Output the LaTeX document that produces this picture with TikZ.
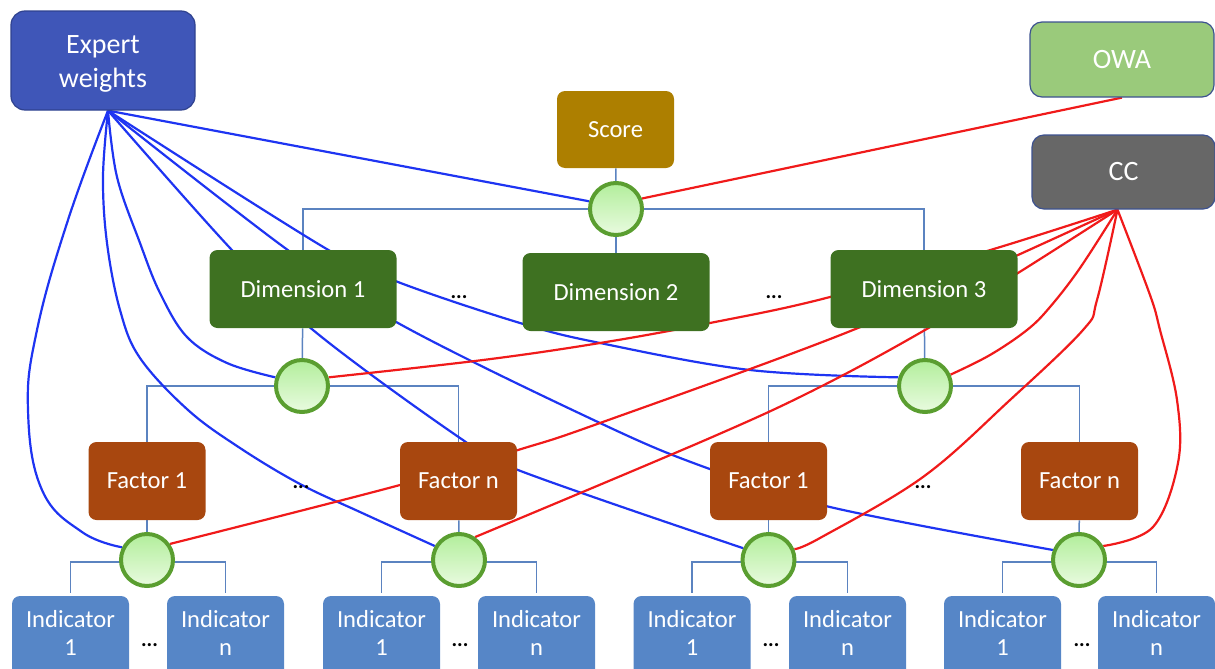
\documentclass[tikz,border=0pt]{standalone}
\usepackage{fontspec}
\setmainfont{Carlito}
\usetikzlibrary{calc}
\definecolor{ewc}{HTML}{3F56B8}
\definecolor{ewb}{HTML}{2F428F}
\definecolor{owac}{HTML}{9ACA7B}
\definecolor{frameb}{HTML}{3D5290}
\definecolor{ccc}{HTML}{676767}
\definecolor{scorec}{HTML}{AD7F00}
\definecolor{dimc}{HTML}{3E7121}
\definecolor{facc}{HTML}{A8470F}
\definecolor{indc}{HTML}{5686C7}
\definecolor{aggd}{HTML}{5A9E30}
\definecolor{aggt}{HTML}{B2EE9B}
\definecolor{aggb}{HTML}{E9FBE0}
\definecolor{treec}{HTML}{5B83C0}
\definecolor{bluec}{HTML}{1E34F2}
\definecolor{redc}{HTML}{F01A1A}
\pgfdeclarelayer{bg}
\pgfsetlayers{bg,main}
\newcommand{\indtext}[1]{\raisebox{1.3pt}[\height][\depth]{\begin{tabular}{@{}c@{}}Indicator\\#1\end{tabular}}}
\begin{document}
\begin{tikzpicture}[x=0.5pt,y=-0.5pt,
 box/.style={rectangle, rounded corners=4pt, inner sep=0pt, text=white, font=\fontsize{12.3}{14}\selectfont, align=center},
 dimbox/.style={box, fill=dimc, minimum width=93.5pt, minimum height=39pt},
 facbox/.style={box, fill=facc, minimum width=58.5pt, minimum height=39pt},
 indbox/.style={box, fill=indc, minimum width=58.5pt, minimum height=42pt},
 agg/.style={circle, draw=aggd, line width=2pt, minimum size=26pt, inner sep=0pt, top color=aggt, bottom color=aggb},
 topbox/.style={rectangle, rounded corners=6pt, draw=frameb, line width=0.6pt, inner sep=0pt, text=white, font=\fontsize{14}{17}\selectfont, align=center},
 tree/.style={draw=treec, line width=0.75pt},
 wconn/.style={draw=bluec, line width=1.1pt},
 rconn/.style={draw=redc, line width=1.1pt},
 ellip/.style={font=\bfseries\fontsize{10.5}{10.5}\selectfont, inner sep=0pt},
]
\useasboundingbox (0,0) rectangle (1215,669);
% top boxes
\node[topbox, fill=ewc, draw=ewb, rounded corners=7pt, minimum width=92pt, minimum height=49.5pt] (ew) at (103,60.5) {\raisebox{-1.5pt}[\height][\depth]{\begin{tabular}{@{}c@{}}Expert\\weights\end{tabular}}};
\node[topbox, fill=owac, minimum width=92pt, minimum height=37.5pt] (owa) at (1122,59.5) {OWA};
\node[topbox, fill=ccc, minimum width=91.5pt, minimum height=37pt] (cc) at (1123.5,172) {CC};
\node[box, fill=scorec, minimum width=58.5pt, minimum height=38.5pt] (score) at (615.5,129.5) {Score};
\node[agg] (sc) at (616,209) {};
% dimensions
\node[dimbox] (d1) at (303,289) {Dimension 1};
\node[dimbox] (d2) at (616,292) {Dimension 2};
\node[dimbox] (d3) at (924,289) {Dimension 3};
\node[agg] (c1) at (302,386) {};
\node[agg] (c3) at (925,386) {};
% factors
\node[facbox] (f1) at (147,481) {Factor 1};
\node[facbox] (fn) at (458.5,481) {Factor n};
\node[facbox] (g1) at (768.5,481) {Factor 1};
\node[facbox] (gn) at (1079.5,481) {Factor n};
\node[agg] (cf1) at (147,560) {};
\node[agg] (cfn) at (459,560) {};
\node[agg] (cg1) at (768.5,560) {};
\node[agg] (cgn) at (1079,560) {};
% indicators
\node[indbox] (i11) at (70.5,638) {\indtext{1}};
\node[indbox] (i1n) at (225.5,638) {\indtext{n}};
\node[indbox] (i21) at (381.5,638) {\indtext{1}};
\node[indbox] (i2n) at (536.5,638) {\indtext{n}};
\node[indbox] (i31) at (692,638) {\indtext{1}};
\node[indbox] (i3n) at (847.5,638) {\indtext{n}};
\node[indbox] (i41) at (1002.5,638) {\indtext{1}};
\node[indbox] (i4n) at (1156.5,638) {\indtext{n}};
% ellipses
\node[ellip] (e1) at (459,297) {...};
\node[ellip] (e2) at (774,297) {...};
\node[ellip] (e3) at (301,487) {...};
\node[ellip] (e4) at (923,487) {...};
\node[ellip] (e5) at (149.5,645) {...};
\node[ellip] (e6) at (460,645) {...};
\node[ellip] (e7) at (771,645) {...};
\node[ellip] (e8) at (1082,645) {...};
\coordinate (ewp) at ([xshift=2.5pt]ew.south);
\coordinate (ccp) at ([xshift=-3pt]cc.south);
\begin{pgfonlayer}{bg}
% tree
\draw[tree] (score) -- (sc);
\draw[tree] (sc) -- (d2);
\draw[tree] (d1.north) |- (sc.center) -| (d3.north);
\draw[tree] (d1) -- (c1);
\draw[tree] (f1.north) |- (c1.center) -| (fn.north);
\draw[tree] (d3) -- (c3);
\draw[tree] (g1.north) |- (c3.center) -| (gn.north);
\draw[tree] (f1) -- (cf1);
\draw[tree] (fn) -- (cfn);
\draw[tree] (g1) -- (cg1);
\draw[tree] (gn) -- (cgn);
\draw[tree] ([yshift=1.5pt]i11.north) |- ([yshift=-1pt]cf1.center) -| ([yshift=1.5pt]i1n.north);
\draw[tree] ([yshift=1.5pt]i21.north) |- ([yshift=-1pt]cfn.center) -| ([yshift=1.5pt]i2n.north);
\draw[tree] ([yshift=1.5pt]i31.north) |- ([yshift=-1pt]cg1.center) -| ([yshift=1.5pt]i3n.north);
\draw[tree] ([yshift=1.5pt]i41.north) |- ([yshift=-1pt]cgn.center) -| ([yshift=1.5pt]i4n.north);
% expert weights (blue)
\draw[wconn] (ewp) -- (sc.164);
\draw[wconn] plot[smooth, tension=0.6] coordinates {(ewp) (117,177) (140,243) (160,293) (187,337) (227,363) (c1.162)};
\draw[wconn] plot[smooth, tension=0.6] coordinates {(ewp) (325,248) (398,282) (520,323) (600,343) (750,370) (c3.162)};
\draw[wconn] plot[smooth, tension=0.7] coordinates {(ewp) (68,220) (37,330) (28,410) (42,490) (82,532) (cf1.153)};
\draw[wconn] plot[smooth, tension=0.6] coordinates {(ewp) (103,177) (107,243) (120,310) (140,358) (188,410) (240,448) (300,484) (360,512) (cfn.150)};
\draw[wconn] plot[smooth, tension=0.6] coordinates {(ewp) (230,248) (313,330) (460,438) (518,470) (cg1.155)};
\draw[wconn] plot[smooth, tension=0.6] coordinates {(ewp) (285,248) (398,323) (600,423) (707,468) (830,507) (cgn.159)};
% OWA and CC (red)
\draw[rconn] (owa.south) -- (sc.22);
\draw[rconn] plot[smooth, tension=0.6] coordinates {(c1.18) (483,360) (600,343) (710,323) (830,297) (997,248) (ccp)};
\draw[rconn] plot[smooth, tension=0.6] coordinates {(cf1.35) (400,485) (518,450) (600,423) (853,330) (1018,255) (ccp)};
\draw[rconn] plot[smooth, tension=0.6] coordinates {(cfn.55) (710,438) (820,387) (925,330) (1018,273) (ccp)};
\draw[rconn] plot[smooth, tension=0.6] coordinates {(c3.24) (990,355) (1027,330) (1050,307) (1080,268) (ccp)};
\draw[rconn] plot[smooth, tension=0.6] coordinates {(cg1.23) (820,538) (923,477) (1010,400) (1083,330) (1097,300) (ccp)};
\draw[rconn] plot[smooth, tension=0.6] coordinates {(cgn.30) (1153,527) (1178,463) (1177,400) (1160,330) (1150,295) (ccp)};
\end{pgfonlayer}
\end{tikzpicture}
\end{document}
